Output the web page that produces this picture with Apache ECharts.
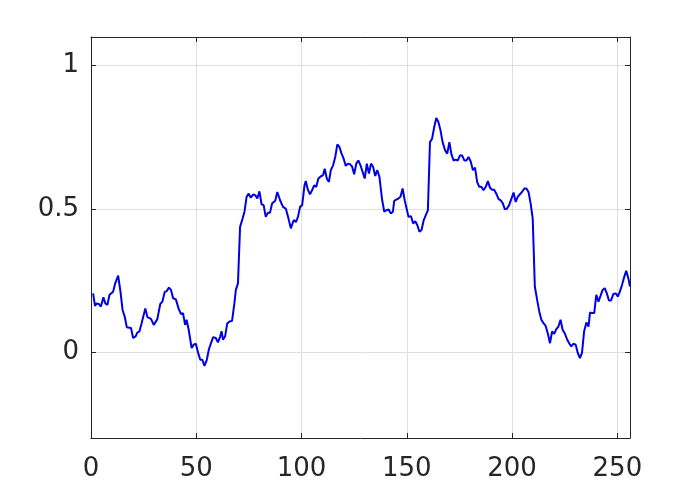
<!DOCTYPE html>
<html>
<head>
<meta charset="utf-8">
<script src="https://cdn.jsdelivr.net/npm/echarts@6/dist/echarts.min.js"></script>
<style>
  html, body { margin: 0; padding: 0; background: #ffffff; }
  #chart { width: 696px; height: 492px; }
</style>
</head>
<body>
<div id="chart"></div>
<script>
// ---- data ----
const xs = [
  1, 1.9, 2.7, 3.7, 4.7, 5.9, 6.8, 7.8, 8.8, 10.5, 11.5, 12.9, 14, 15, 16, 17, 19, 20, 21.2, 22,
  23, 24, 25.8, 26.8, 28.5, 29.8, 31.5, 32.9, 33.9, 35, 36, 37, 38, 39, 40.3, 41.7, 42.7, 43.7, 44.7, 45.4,
  46.4, 47.8, 48.8, 49.8, 50.8, 51.9, 52.9, 53.9, 55, 56, 57, 58, 59.3, 60.3, 61.4, 62, 62.7, 63.7, 64.7, 65.8,
  67, 68.1, 68.8, 69.8, 70.8, 72, 72.9, 73.9, 74.9, 75.9, 77, 78, 79, 80, 81, 82, 83, 84, 85, 86,
  87.5, 88.5, 89.8, 91.2, 92.5, 93.6, 94.9, 96.3, 97.3, 98.3, 99.3, 100.3, 101.4, 102, 103, 104, 105, 106, 107, 108,
  109.2, 110.2, 111, 112, 113, 113.9, 115, 116, 117, 118, 119, 120, 121, 122, 123, 124, 125, 126, 127, 128,
  129, 130, 131, 132, 133, 134, 135, 136, 137, 138.3, 139.3, 140.3, 141.4, 142.4, 143.4, 144, 145, 146, 147, 148,
  149, 149.8, 150.8, 152, 153, 154, 155, 156, 157, 158, 159, 160, 161, 162, 163, 164, 165, 166, 167, 168.2,
  169.2, 170.2, 171.2, 172.2, 173.2, 174.2, 175.3, 176.3, 177.3, 178.3, 179.3, 180.3, 181.4, 182.4, 183.4, 184.4, 185.4, 186.4, 187.5, 188.5,
  189.5, 190.5, 191.5, 192.5, 193.6, 194.6, 195.6, 196.6, 197.6, 198.6, 199.7, 200.7, 201.7, 202.7, 203.7, 204.7, 205.8, 206.8, 207.8, 208.8,
  209.8, 210.8, 211.9, 212.9, 213.9, 214.9, 215.9, 217, 218, 219, 220, 221, 222, 223, 224, 225.1, 226.1, 227.1, 228.1, 229.1,
  230.2, 231.2, 232.2, 233.2, 234.2, 235.3, 236.3, 237, 238, 239, 240, 241, 242, 243, 244, 245, 246, 247, 248.1, 249.2,
  250.2, 251.2, 252.2, 253.2, 254.2, 255.2, 256
];
const ys = [
  0.205, 0.161, 0.170, 0.168, 0.159, 0.191, 0.170, 0.165, 0.200, 0.211, 0.240, 0.267, 0.211, 0.147, 0.124, 0.087, 0.084, 0.049, 0.055, 0.068,
  0.072, 0.100, 0.152, 0.122, 0.116, 0.095, 0.115, 0.168, 0.176, 0.210, 0.213, 0.225, 0.217, 0.188, 0.184, 0.150, 0.133, 0.136, 0.095, 0.113,
  0.078, 0.014, 0.026, 0.029, -0.001, -0.027, -0.027, -0.048, -0.027, 0.010, 0.031, 0.052, 0.049, 0.034, 0.055, 0.073, 0.043, 0.055, 0.100, 0.107,
  0.109, 0.170, 0.217, 0.240, 0.437, 0.466, 0.490, 0.542, 0.553, 0.539, 0.550, 0.548, 0.536, 0.561, 0.516, 0.513, 0.472, 0.486, 0.486, 0.519,
  0.528, 0.559, 0.530, 0.507, 0.501, 0.472, 0.432, 0.461, 0.454, 0.472, 0.507, 0.513, 0.582, 0.597, 0.567, 0.551, 0.565, 0.582, 0.577, 0.606,
  0.614, 0.617, 0.640, 0.606, 0.594, 0.635, 0.652, 0.681, 0.725, 0.716, 0.693, 0.675, 0.650, 0.658, 0.656, 0.648, 0.621, 0.658, 0.669, 0.652,
  0.629, 0.606, 0.658, 0.623, 0.658, 0.646, 0.615, 0.635, 0.611, 0.530, 0.490, 0.495, 0.498, 0.484, 0.490, 0.528, 0.532, 0.536, 0.542, 0.571,
  0.530, 0.530, 0.472, 0.474, 0.449, 0.457, 0.443, 0.420, 0.426, 0.460, 0.478, 0.495, 0.733, 0.745, 0.785, 0.817, 0.803, 0.774, 0.733, 0.704,
  0.693, 0.733, 0.690, 0.669, 0.672, 0.669, 0.687, 0.686, 0.669, 0.669, 0.681, 0.666, 0.635, 0.644, 0.594, 0.577, 0.577, 0.565, 0.577, 0.597,
  0.574, 0.567, 0.567, 0.553, 0.534, 0.530, 0.519, 0.498, 0.501, 0.513, 0.536, 0.557, 0.524, 0.542, 0.551, 0.559, 0.571, 0.571, 0.559, 0.519,
  0.466, 0.229, 0.182, 0.142, 0.113, 0.101, 0.092, 0.064, 0.031, 0.072, 0.064, 0.080, 0.089, 0.113, 0.078, 0.064, 0.045, 0.031, 0.020, 0.029,
  0.026, -0.003, -0.021, -0.003, 0.072, 0.103, 0.089, 0.138, 0.136, 0.136, 0.200, 0.176, 0.196, 0.217, 0.223, 0.205, 0.180, 0.180, 0.203, 0.205,
  0.194, 0.211, 0.234, 0.261, 0.284, 0.258, 0.229
];
const xTicks = [0, 50, 100, 150, 200, 250];
const yTicks = [0, 0.5, 1];
const xRange = [0, 256];
const yRange = [-0.3, 1.1];

// ---- chart ----
const axisColor = '#262626';
const gridColor = '#dfdfdf';
const fontFamily = '"DejaVu Sans", "Liberation Sans", Arial, sans-serif';

const points = xs.map((x, i) => [x, ys[i]]);

function makeX(pos, main) {
  return {
    type: 'value', position: pos, min: xRange[0], max: xRange[1],
    axisLine: { show: true, onZero: false, lineStyle: { color: axisColor, width: 1 } },
    axisTick: { show: true, inside: true, length: 5, customValues: xTicks, lineStyle: { color: axisColor } },
    axisLabel: main ? { show: true, customValues: xTicks, color: axisColor, fontSize: 26, fontFamily: fontFamily, margin: 18 } : { show: false },
    splitLine: { show: main, lineStyle: { color: gridColor, width: 1 } }
  };
}
function makeY(pos, main) {
  return {
    type: 'value', position: pos, min: yRange[0], max: yRange[1],
    axisLine: { show: true, onZero: false, lineStyle: { color: axisColor, width: 1 } },
    axisTick: { show: true, inside: true, length: 5, customValues: yTicks, lineStyle: { color: axisColor } },
    axisLabel: main ? { show: true, customValues: yTicks, color: axisColor, fontSize: 26, fontFamily: fontFamily, margin: 12 } : { show: false },
    splitLine: { show: main, lineStyle: { color: gridColor, width: 1 } }
  };
}

const chart = echarts.init(document.getElementById('chart'), null, { renderer: 'canvas' });
chart.setOption({
  animation: false,
  backgroundColor: '#ffffff',
  grid: { left: 91, right: 66, top: 37, bottom: 54, containLabel: false },
  xAxis: [makeX('bottom', true), makeX('top', false)],
  yAxis: [makeY('left', true), makeY('right', false)],
  series: [{
    type: 'line',
    xAxisIndex: 0, yAxisIndex: 0,
    data: points,
    showSymbol: false,
    symbol: 'none',
    lineStyle: { color: '#0000e6', width: 2 },
    z: 5
  }]
});
</script>
</body>
</html>
